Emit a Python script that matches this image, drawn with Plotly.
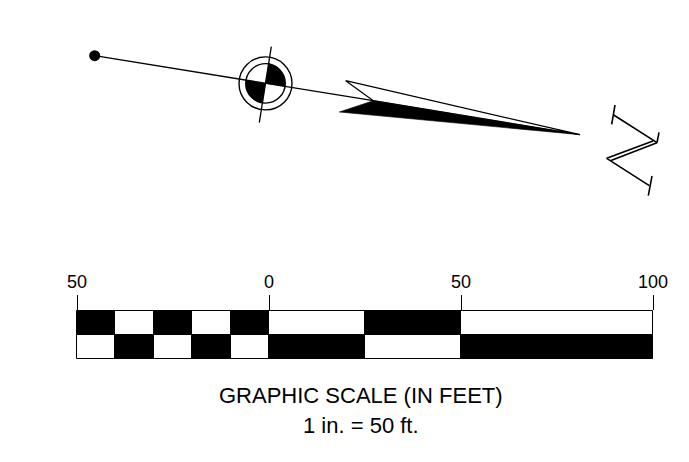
import numpy as np
import plotly.graph_objects as go

W, H = 689, 462
INK = "#000000"
FONT = "Liberation Sans"

# Scale-bar data, in feet
scale_ticks = [-50, 0, 50, 100]
scale_labels = ["50", "0", "50", "100"]
top_black_start = [-50, -30, -10, 25]
top_black_len = [10, 10, 10, 25]
top_white_start = [-40, -20, 0, 50]
top_white_len = [10, 10, 25, 50]
bot_black_start = [-40, -20, 0, 50]
bot_black_len = [10, 10, 25, 50]
bot_white_start = [-50, -30, -10, 25]
bot_white_len = [10, 10, 10, 25]
row_top_y = 322.8
row_bot_y = 347.3
row_height = 24.3

# Survey sketch, in page units
dot_x, dot_y = [94.7], [55.7]
ray_x = [94.7, 373.3]
ray_y = [55.7, 100.7]
cross_x = [271.3, 259.3]
cross_y = [46.7, 122.7]
centre_x, centre_y = 265.5, 83.4
ring_outer_d, ring_inner_d = 53, 39.5
arrow_white_x = [580, 345.7, 373.3, 580]
arrow_white_y = [134.7, 80.7, 100.7, 134.7]
arrow_black_x = [580, 373.3, 339.3, 580]
arrow_black_y = [134.7, 100.7, 112, 134.7]
n_strokes = [
    ([615, 611.7], [105, 124.3]),
    ([613.7, 657, 611], [115, 142.7, 160.5]),
    ([659, 657], [132.3, 142.7]),
    ([653, 606.7, 649.3], [141, 158.3, 185.7]),
    ([652, 648.3], [176, 195.7]),
]
caption_1 = "GRAPHIC SCALE (IN FEET)"
caption_2 = "1 in. = 50 ft."

fig = go.Figure()


def scale_bars(y, starts, lengths, colour):
    fig.add_trace(go.Bar(
        orientation="h", xaxis="x2", yaxis="y",
        y=[y] * len(starts), base=starts, x=lengths, width=row_height,
        marker=dict(color=colour, line=dict(color=INK, width=1)),
        hoverinfo="skip",
    ))


scale_bars(row_top_y, top_white_start, top_white_len, "#ffffff")
scale_bars(row_top_y, top_black_start, top_black_len, INK)
scale_bars(row_bot_y, bot_white_start, bot_white_len, "#ffffff")
scale_bars(row_bot_y, bot_black_start, bot_black_len, INK)


def line(x, y, width=1.3):
    fig.add_trace(go.Scatter(x=x, y=y, mode="lines", hoverinfo="skip",
                             line=dict(color=INK, width=width)))


def poly(x, y, fill, width=1.3):
    fig.add_trace(go.Scatter(x=x, y=y, mode="lines", fill="toself", fillcolor=fill,
                             hoverinfo="skip", line=dict(color=INK, width=width)))


def wedge(a0, a1, r):
    a = np.radians(np.linspace(a0, a1, 40))
    xs = [centre_x] + list(centre_x + r * np.cos(a)) + [centre_x]
    ys = [centre_y] + list(centre_y + r * np.sin(a)) + [centre_y]
    poly(xs, ys, INK, 0.3)


poly(arrow_white_x, arrow_white_y, "#ffffff")
poly(arrow_black_x, arrow_black_y, INK, 0.6)
line(ray_x, ray_y)
line(cross_x, cross_y)
wedge(-80.8, 9.2, ring_inner_d / 2)
wedge(99.2, 189.2, ring_inner_d / 2)
for d in (ring_outer_d, ring_inner_d):
    fig.add_trace(go.Scatter(
        x=[centre_x], y=[centre_y], mode="markers", hoverinfo="skip",
        marker=dict(symbol="circle-open", size=d, color=INK, line=dict(color=INK, width=1.4)),
    ))
fig.add_trace(go.Scatter(x=dot_x, y=dot_y, mode="markers", hoverinfo="skip",
                         marker=dict(size=11, color=INK)))
for sx, sy in n_strokes:
    line(sx, sy, 1.6)

fig.update_layout(
    width=W, height=H, autosize=False,
    margin=dict(l=0, r=0, t=0, b=0),
    paper_bgcolor="#ffffff", plot_bgcolor="#ffffff",
    showlegend=False, barmode="overlay", bargap=0,
    font=dict(family=FONT, color=INK, size=18),
    xaxis=dict(range=[0, W], domain=[0, 1], visible=False, fixedrange=True),
    yaxis=dict(range=[H, 0], domain=[0, 1], visible=False, fixedrange=True),
    xaxis2=dict(
        overlaying="x", domain=[0, 1], anchor="free", position=1 - 310.3 / H, side="top",
        range=[(0 - 269) / 3.84, (W - 269) / 3.84],
        tickmode="array", tickvals=scale_ticks, ticktext=scale_labels,
        ticks="outside", ticklen=15, tickwidth=1, tickcolor=INK,
        showline=False, showgrid=False, zeroline=False, fixedrange=True,
        tickfont=dict(family=FONT, size=18, color=INK),
    ),
    annotations=[
        dict(x=361, y=395, xref="x", yref="y", text=caption_1, showarrow=False,
             font=dict(family=FONT, size=22, color=INK)),
        dict(x=361, y=425, xref="x", yref="y", text=caption_2, showarrow=False,
             font=dict(family=FONT, size=22, color=INK)),
    ],
)

fig.write_html("out.html", config={"displayModeBar": False},
               post_script="document.body.style.margin='0';document.documentElement.style.overflow='hidden';")
